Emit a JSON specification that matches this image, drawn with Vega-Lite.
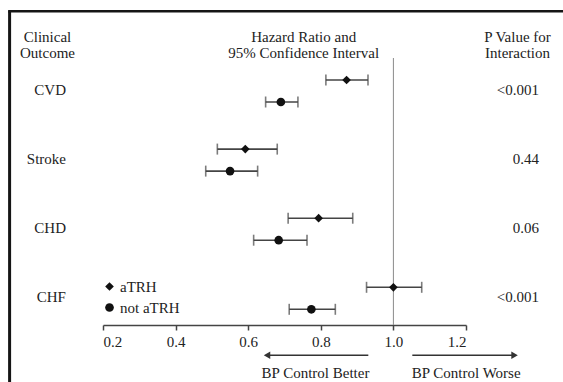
{
  "$schema": "https://vega.github.io/schema/vega-lite/v6.json",
  "width": 363,
  "height": 267,
  "autosize": {"type": "none"},
  "padding": {"left": 103, "top": 58, "right": 97, "bottom": 57},
  "background": "white",
  "config": {
    "view": {"stroke": null},
    "font": "Liberation Serif",
    "text": {"font": "Liberation Serif", "fontSize": 15, "color": "#222"},
    "axisX": {
      "labelFont": "Liberation Serif",
      "labelFontSize": 15,
      "labelColor": "#222",
      "labelPadding": 4,
      "domainColor": "#444",
      "domainWidth": 1.5,
      "tickColor": "#444",
      "tickWidth": 1.5,
      "tickSize": 5,
      "grid": false,
      "title": null
    }
  },
  "datasets": {
    "forest": [
      {"outcome": "CVD", "group": "aTRH", "hr": 0.871, "lo": 0.814, "hi": 0.930},
      {"outcome": "CVD", "group": "not aTRH", "hr": 0.690, "lo": 0.648, "hi": 0.737},
      {"outcome": "Stroke", "group": "aTRH", "hr": 0.592, "lo": 0.515, "hi": 0.680},
      {"outcome": "Stroke", "group": "not aTRH", "hr": 0.550, "lo": 0.483, "hi": 0.626},
      {"outcome": "CHD", "group": "aTRH", "hr": 0.794, "lo": 0.710, "hi": 0.888},
      {"outcome": "CHD", "group": "not aTRH", "hr": 0.684, "lo": 0.615, "hi": 0.762},
      {"outcome": "CHF", "group": "aTRH", "hr": 1.000, "lo": 0.926, "hi": 1.078},
      {"outcome": "CHF", "group": "not aTRH", "hr": 0.774, "lo": 0.713, "hi": 0.840}
    ],
    "outcomes": [
      {"outcome": "CVD", "p": "<0.001"},
      {"outcome": "Stroke", "p": "0.44"},
      {"outcome": "CHD", "p": "0.06"},
      {"outcome": "CHF", "p": "<0.001"}
    ],
    "one": [{}]
  },
  "layer": [
    {
      "layer": [
        {
          "data": {"name": "one"},
          "mark": {"type": "rule", "color": "#8a8a8a", "strokeWidth": 1},
          "encoding": {
            "x": {"datum": 1.0, "type": "quantitative", "scale": {"domain": [0.2, 1.2], "nice": false, "zero": false}, "axis": {"values": [0.2, 0.4, 0.6, 0.8, 1.0, 1.2], "format": ".1f", "title": null}}
          }
        },
        {
          "data": {"name": "forest"},
          "mark": {"type": "rule", "color": "#444", "strokeWidth": 1.6},
          "encoding": {
            "x": {"field": "lo", "type": "quantitative", "scale": {"domain": [0.2, 1.2], "nice": false, "zero": false}},
            "x2": {"field": "hi"},
            "y": {"field": "outcome", "type": "nominal", "axis": null, "scale": {"domain": ["CVD", "Stroke", "CHD", "CHF"], "range": [-3.05, 273.35], "paddingInner": 0, "paddingOuter": 0}},
            "yOffset": {"field": "group", "type": "nominal", "scale": {"domain": ["aTRH", "not aTRH"], "range": [14.05, 58.05], "paddingInner": 0, "paddingOuter": 0}}
          }
        },
        {
          "data": {"name": "forest"},
          "mark": {"type": "tick", "orient": "vertical", "color": "#444", "thickness": 1.6, "size": 11},
          "encoding": {
            "x": {"field": "lo", "type": "quantitative", "scale": {"domain": [0.2, 1.2], "nice": false, "zero": false}},
            "y": {"field": "outcome", "type": "nominal", "axis": null},
            "yOffset": {"field": "group", "type": "nominal"}
          }
        },
        {
          "data": {"name": "forest"},
          "mark": {"type": "tick", "orient": "vertical", "color": "#444", "thickness": 1.6, "size": 11},
          "encoding": {
            "x": {"field": "hi", "type": "quantitative", "scale": {"domain": [0.2, 1.2], "nice": false, "zero": false}},
            "y": {"field": "outcome", "type": "nominal", "axis": null},
            "yOffset": {"field": "group", "type": "nominal"}
          }
        },
        {
          "data": {"name": "forest"},
          "mark": {"type": "point", "filled": true, "color": "#111", "opacity": 1, "size": 75},
          "encoding": {
            "x": {"field": "hr", "type": "quantitative", "scale": {"domain": [0.2, 1.2], "nice": false, "zero": false}},
            "y": {"field": "outcome", "type": "nominal", "axis": null},
            "yOffset": {"field": "group", "type": "nominal"},
            "shape": {
              "field": "group",
              "type": "nominal",
              "scale": {"domain": ["aTRH", "not aTRH"], "range": ["diamond", "circle"]},
              "legend": {
                "orient": "none",
                "legendX": -1,
                "legendY": 221,
                "title": null,
                "labelFont": "Liberation Serif",
                "labelFontSize": 15,
                "labelColor": "#222",
                "labelOffset": 3,
                "symbolSize": 75,
                "symbolFillColor": "#111",
                "symbolStrokeColor": "#111",
                "symbolStrokeWidth": 0,
                "rowPadding": 5,
                "padding": 0
              }
            }
          }
        },
        {
          "data": {"name": "outcomes"},
          "mark": {"type": "text", "align": "right", "baseline": "middle", "fontSize": 15, "font": "Liberation Serif", "color": "#222"},
          "encoding": {
            "x": {"datum": 0.098, "type": "quantitative", "scale": {"domain": [0.2, 1.2], "nice": false, "zero": false}},
            "y": {"field": "outcome", "type": "nominal", "axis": null},
            "text": {"field": "outcome"}
          }
        },
        {
          "data": {"name": "outcomes"},
          "mark": {"type": "text", "align": "right", "baseline": "middle", "fontSize": 15, "font": "Liberation Serif", "color": "#222"},
          "encoding": {
            "x": {"datum": 1.401, "type": "quantitative", "scale": {"domain": [0.2, 1.2], "nice": false, "zero": false}},
            "y": {"field": "outcome", "type": "nominal", "axis": null},
            "text": {"field": "p"}
          }
        }
      ]
    },
    {
      "data": {"name": "one"},
      "layer": [
        {
          "mark": {"type": "rule", "color": "#151515", "strokeWidth": 3},
          "encoding": {
            "x": {"datum": -0.0573, "type": "quantitative", "scale": {"domain": [0.2, 1.2], "nice": false, "zero": false}},
            "y": {"datum": -0.1317, "type": "quantitative", "axis": null, "scale": {"domain": [0.5441, 4.4081], "reverse": true, "nice": false, "zero": false}},
            "y2": {"datum": 6}
          }
        },
        {
          "mark": {"type": "rule", "color": "#151515", "strokeWidth": 2.5},
          "encoding": {
            "x": {"datum": -0.0614, "type": "quantitative", "scale": {"domain": [0.2, 1.2], "nice": false, "zero": false}},
            "x2": {"datum": 1.8},
            "y": {"datum": -0.1317, "type": "quantitative", "axis": null}
          }
        },
        {
          "mark": {"type": "text", "text": ["Clinical", "Outcome"], "align": "center", "baseline": "middle", "lineHeight": 16, "fontSize": 15, "font": "Liberation Serif", "color": "#222"},
          "encoding": {
            "x": {"datum": 0.0471, "type": "quantitative"},
            "y": {"datum": 0.2352, "type": "quantitative", "axis": null}
          }
        },
        {
          "mark": {"type": "text", "text": ["Hazard Ratio and", "95% Confidence Interval"], "align": "center", "baseline": "middle", "lineHeight": 16, "fontSize": 15, "font": "Liberation Serif", "color": "#222"},
          "encoding": {
            "x": {"datum": 0.7529, "type": "quantitative"},
            "y": {"datum": 0.2352, "type": "quantitative", "axis": null}
          }
        },
        {
          "mark": {"type": "text", "text": ["P Value for", "Interaction"], "align": "center", "baseline": "middle", "lineHeight": 16, "fontSize": 15, "font": "Liberation Serif", "color": "#222"},
          "encoding": {
            "x": {"datum": 1.3419, "type": "quantitative"},
            "y": {"datum": 0.2352, "type": "quantitative", "axis": null}
          }
        },
        {
          "mark": {"type": "rule", "color": "#333", "strokeWidth": 1.4},
          "encoding": {
            "x": {"datum": 0.9309, "type": "quantitative"},
            "x2": {"datum": 0.6519},
            "y": {"datum": 4.8466, "type": "quantitative", "axis": null}
          }
        },
        {
          "mark": {"type": "point", "shape": "triangle-left", "filled": true, "color": "#333", "opacity": 1, "size": 56},
          "encoding": {
            "x": {"datum": 0.6519, "type": "quantitative"},
            "y": {"datum": 4.8466, "type": "quantitative", "axis": null}
          }
        },
        {
          "mark": {"type": "rule", "color": "#333", "strokeWidth": 1.4},
          "encoding": {
            "x": {"datum": 1.0521, "type": "quantitative"},
            "x2": {"datum": 1.3338},
            "y": {"datum": 4.8466, "type": "quantitative", "axis": null}
          }
        },
        {
          "mark": {"type": "point", "shape": "triangle-right", "filled": true, "color": "#333", "opacity": 1, "size": 56},
          "encoding": {
            "x": {"datum": 1.3338, "type": "quantitative"},
            "y": {"datum": 4.8466, "type": "quantitative", "axis": null}
          }
        },
        {
          "mark": {"type": "text", "text": "BP Control Better", "align": "center", "baseline": "middle", "fontSize": 15, "font": "Liberation Serif", "color": "#222"},
          "encoding": {
            "x": {"datum": 0.7854, "type": "quantitative"},
            "y": {"datum": 5.1027, "type": "quantitative", "axis": null}
          }
        },
        {
          "mark": {"type": "text", "text": "BP Control Worse", "align": "center", "baseline": "middle", "fontSize": 15, "font": "Liberation Serif", "color": "#222"},
          "encoding": {
            "x": {"datum": 1.2006, "type": "quantitative"},
            "y": {"datum": 5.1027, "type": "quantitative", "axis": null}
          }
        }
      ]
    }
  ],
  "resolve": {"scale": {"y": "independent"}}
}
